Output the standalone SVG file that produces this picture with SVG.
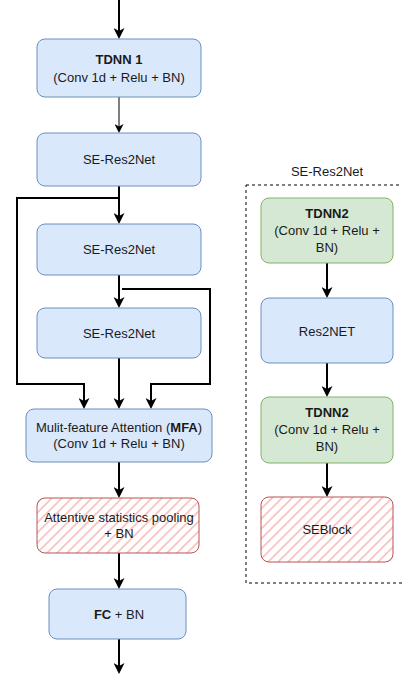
<svg xmlns="http://www.w3.org/2000/svg" width="402" height="674" viewBox="0 0 402 674">
  <style>
    text { font-family: "Liberation Sans", Arial, Helvetica, sans-serif; font-size: 13px; fill: #1a1a1a; text-anchor: middle; }
    .b { font-weight: bold; }
    .blue { fill: #dae8fc; stroke: #6c8ebf; stroke-width: 1; }
    .green { fill: #d5e8d4; stroke: #82b366; stroke-width: 1; }
    .hatch { fill: url(#hatch); stroke: #b85450; stroke-width: 1; }
    .edge { fill: none; stroke: #000; stroke-width: 2; marker-end: url(#arr); }
    .thin { fill: none; stroke: #000; stroke-width: 1; marker-end: url(#arrThin); }
    .frame { fill: none; stroke: #000; stroke-width: 1; stroke-dasharray: 3 3; }
  </style>
  <defs>
    <pattern id="hatch" patternUnits="userSpaceOnUse" width="10" height="10">
      <rect width="10" height="10" fill="#ffffff"/>
      <path d="M-5,5 L5,-5 M0,10 L10,0 M5,15 L15,5" stroke="#f7c3c1" stroke-width="1.6"/>
    </pattern>
    <marker id="arr" markerUnits="userSpaceOnUse" viewBox="0 0 11 11" refX="6" refY="5.5" markerWidth="11" markerHeight="11" orient="auto">
      <path d="M0,0 L11,5.5 L0,11 L3,5.5 Z" fill="#000"/>
    </marker>
    <marker id="arrThin" markerUnits="userSpaceOnUse" viewBox="0 0 9 9" refX="5" refY="4.5" markerWidth="9" markerHeight="9" orient="auto">
      <path d="M0,0 L9,4.5 L0,9 L2.5,4.5 Z" fill="#000"/>
    </marker>
  </defs>

  <!-- connectors -->
  <g id="connectors">
    <path class="edge" d="M119,0 V34"/>
    <path class="thin" d="M119,97 V129"/>
    <path class="edge" d="M119,186 V219"/>
    <path class="edge" d="M119,198 H17 V384 H84 V404"/>
    <path class="edge" d="M119,275 V303"/>
    <path class="edge" d="M122,289 H210 V384 H151 V404"/>
    <path class="edge" d="M119,358 V404"/>
    <path class="edge" d="M119,462 V493"/>
    <path class="edge" d="M119,553 V584"/>
    <path class="edge" d="M119,639 V669"/>
    <path class="edge" d="M327,263 V293"/>
    <path class="edge" d="M327,363 V392"/>
    <path class="edge" d="M327,463 V492"/>
  </g>

  <!-- main pipeline -->
  <g id="tdnn1">
    <rect class="blue" x="37" y="39" width="164" height="58" rx="8"/>
    <text x="119" y="64" class="b">TDNN 1</text>
    <text x="119" y="82">(Conv 1d + Relu + BN)</text>
  </g>
  <g id="se-res2net-1">
    <rect class="blue" x="37" y="133" width="164" height="53" rx="8"/>
    <text x="119" y="164">SE-Res2Net</text>
  </g>
  <g id="se-res2net-2">
    <rect class="blue" x="37" y="224" width="164" height="51" rx="8"/>
    <text x="119" y="254">SE-Res2Net</text>
  </g>
  <g id="se-res2net-3">
    <rect class="blue" x="37" y="308" width="164" height="50" rx="8"/>
    <text x="119" y="338">SE-Res2Net</text>
  </g>
  <g id="mfa">
    <rect class="blue" x="26" y="409" width="186" height="53" rx="8"/>
    <text x="119" y="432">Mulit-feature Attention (<tspan class="b">MFA</tspan>)</text>
    <text x="119" y="448">(Conv 1d + Relu + BN)</text>
  </g>
  <g id="asp">
    <rect class="hatch" x="37" y="498" width="162" height="55" rx="8"/>
    <text x="119" y="522">Attentive statistics pooling</text>
    <text x="119" y="538">+ BN</text>
  </g>
  <g id="fc">
    <rect class="blue" x="49" y="589" width="137" height="50" rx="8"/>
    <text x="119" y="619"><tspan class="b">FC</tspan> + BN</text>
  </g>

  <!-- SE-Res2Net block detail -->
  <g id="se-res2net-detail">
    <text x="327" y="176">SE-Res2Net</text>
    <rect class="frame" x="246" y="185" width="170" height="398"/>
  </g>
  <g id="tdnn2-a">
    <rect class="green" x="261" y="198" width="132" height="65" rx="8"/>
    <text x="327" y="218" class="b">TDNN2</text>
    <text x="327" y="235">(Conv 1d + Relu +</text>
    <text x="327" y="252">BN)</text>
  </g>
  <g id="res2net">
    <rect class="blue" x="261" y="298" width="132" height="65" rx="8"/>
    <text x="327" y="336">Res2NET</text>
  </g>
  <g id="tdnn2-b">
    <rect class="green" x="261" y="397" width="132" height="66" rx="8"/>
    <text x="327" y="417" class="b">TDNN2</text>
    <text x="327" y="434">(Conv 1d + Relu +</text>
    <text x="327" y="451">BN)</text>
  </g>
  <g id="seblock">
    <rect class="hatch" x="261" y="497" width="132" height="65" rx="8"/>
    <text x="327" y="534">SEBlock</text>
  </g>
</svg>
